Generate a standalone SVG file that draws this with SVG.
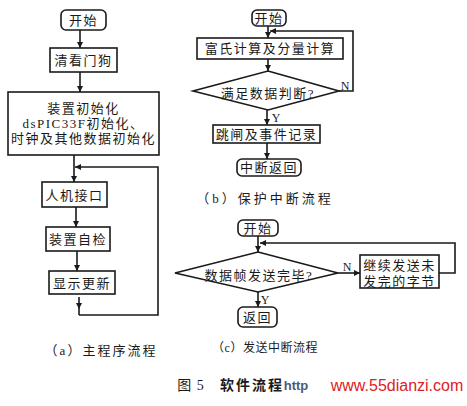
<svg xmlns="http://www.w3.org/2000/svg" width="467" height="406" viewBox="0 0 467 406">
<style>
.b{fill:#fff;stroke:#1a1a1a;stroke-width:1.6}
.l{fill:none;stroke:#1a1a1a;stroke-width:1.6}
text{font-family:"Liberation Serif","Noto Sans CJK SC",serif;fill:#1a1a1a;font-size:13px;text-anchor:middle;dominant-baseline:central}
.t{letter-spacing:1.5px}
.c{font-size:13px;letter-spacing:2px}
</style>
<defs>
<marker id="ah" viewBox="0 0 10 10" refX="10" refY="5" markerWidth="6" markerHeight="6" orient="auto" markerUnits="userSpaceOnUse">
<path d="M0,0 L10,5 L0,10 z" fill="#1a1a1a"/>
</marker>
</defs>
<rect width="467" height="406" fill="#fff"/>
<g id="connectors">
<line class="l" x1="80" y1="30" x2="80" y2="48" marker-end="url(#ah)"/>
<line class="l" x1="80" y1="72" x2="80" y2="92" marker-end="url(#ah)"/>
<line class="l" x1="74" y1="155" x2="74" y2="182" marker-end="url(#ah)"/>
<polyline class="l" points="79,315 158,315 158,167 75,167" marker-end="url(#ah)"/>
<line class="l" x1="76" y1="207" x2="76" y2="227" marker-end="url(#ah)"/>
<line class="l" x1="77" y1="251" x2="77" y2="271" marker-end="url(#ah)"/>
<line class="l" x1="79" y1="297" x2="79" y2="309" marker-end="url(#ah)"/>
<line class="l" x1="79" y1="309" x2="79" y2="315"/>
<line class="l" x1="268" y1="26" x2="268" y2="38" marker-end="url(#ah)"/>
<polyline class="l" points="339,91 353,91 353,31 270,31" marker-end="url(#ah)"/>
<line class="l" x1="268" y1="59" x2="268" y2="71" marker-end="url(#ah)"/>
<line class="l" x1="267" y1="110" x2="267" y2="125" marker-end="url(#ah)"/>
<line class="l" x1="267" y1="143" x2="267" y2="159" marker-end="url(#ah)"/>
<line class="l" x1="258" y1="236" x2="258" y2="252" marker-end="url(#ah)"/>
<polyline class="l" points="439,273 455,273 455,243 260,243" marker-end="url(#ah)"/>
<line class="l" x1="338" y1="273" x2="360" y2="273" marker-end="url(#ah)"/>
<line class="l" x1="258" y1="292" x2="258" y2="307" marker-end="url(#ah)"/>
</g>
<g id="a-start"><rect class="b" x="61" y="10" width="45" height="20" rx="5"/><text x="83.5" y="20" class="t">开始</text></g>
<g id="a-watchdog"><rect class="b" x="50" y="48" width="67" height="24"/><text x="83.5" y="60" class="t">清看门狗</text></g>
<g id="a-init"><rect class="b" x="8" y="92" width="151" height="63"/>
<text x="83.5" y="108" class="t">装置初始化</text>
<text x="83.5" y="123" class="t">dsPIC33F初始化、</text>
<text x="83.5" y="138" class="t">时钟及其他数据初始化</text></g>
<g id="a-hmi"><rect class="b" x="42" y="182" width="65" height="25"/><text x="74.5" y="195" class="t">人机接口</text></g>
<g id="a-selftest"><rect class="b" x="46" y="227" width="64" height="24"/><text x="78" y="239" class="t">装置自检</text></g>
<g id="a-display"><rect class="b" x="49" y="271" width="66" height="23"/><text x="82" y="283" class="t">显示更新</text></g>
<text x="101" y="350" class="c">（a）主程序流程</text>
<g id="b-start"><rect class="b" x="252" y="10" width="34" height="16" rx="5"/><text x="269" y="18" class="t">开始</text></g>
<g id="b-calc"><rect class="b" x="197" y="38" width="146" height="21"/><text x="270" y="48.5" class="t">富氏计算及分量计算</text></g>
<g id="b-judge"><polygon class="b" points="268,71 339,91 268,110 193,91"/><text x="268" y="93" class="t">满足数据判断?</text></g>
<text x="345" y="86" style="font-size:12px">N</text>
<text x="276" y="118" style="font-size:12px">Y</text>
<g id="b-trip"><rect class="b" x="213" y="125" width="107" height="18"/><text x="266.5" y="134" class="t">跳闸及事件记录</text></g>
<g id="b-return"><rect class="b" x="237" y="159" width="64" height="17" rx="5"/><text x="269" y="167.5" class="t">中断返回</text></g>
<text x="265" y="198" style="letter-spacing:3px">（b）保护中断流程</text>
<g id="c-start"><rect class="b" x="238" y="220" width="40" height="16" rx="5"/><text x="258" y="228" class="t">开始</text></g>
<g id="c-judge"><polygon class="b" points="258,252 338,273 258,292 175,273"/><text x="259" y="275" class="t">数据帧发送完毕?</text></g>
<text x="347" y="267" style="font-size:12px">N</text>
<text x="265" y="300" style="font-size:12px">Y</text>
<g id="c-continue"><rect class="b" x="360" y="255" width="79" height="33"/>
<text x="399.5" y="265" class="t">继续发送未</text>
<text x="399.5" y="281" class="t">发完的字节</text></g>
<g id="c-return"><rect class="b" x="238" y="307" width="39" height="20" rx="5"/><text x="257.5" y="317" class="t">返回</text></g>
<text x="265" y="348" style="font-size:12px;letter-spacing:0.5px">（c）发送中断流程</text>
<text x="191" y="385" style="font-size:14px;letter-spacing:1px">图 5</text>
<text x="252" y="385" style="font-size:14px;font-weight:bold;letter-spacing:2px">软件流程</text>
<text x="296" y="385" style="font-size:13px;font-weight:bold;fill:#4a5a7a;font-family:'Liberation Sans',sans-serif">http</text>
<text x="397" y="385" style="font-size:16px;fill:#e0201e;font-family:'Liberation Sans',sans-serif">www.55dianzi.com</text>
</svg>
